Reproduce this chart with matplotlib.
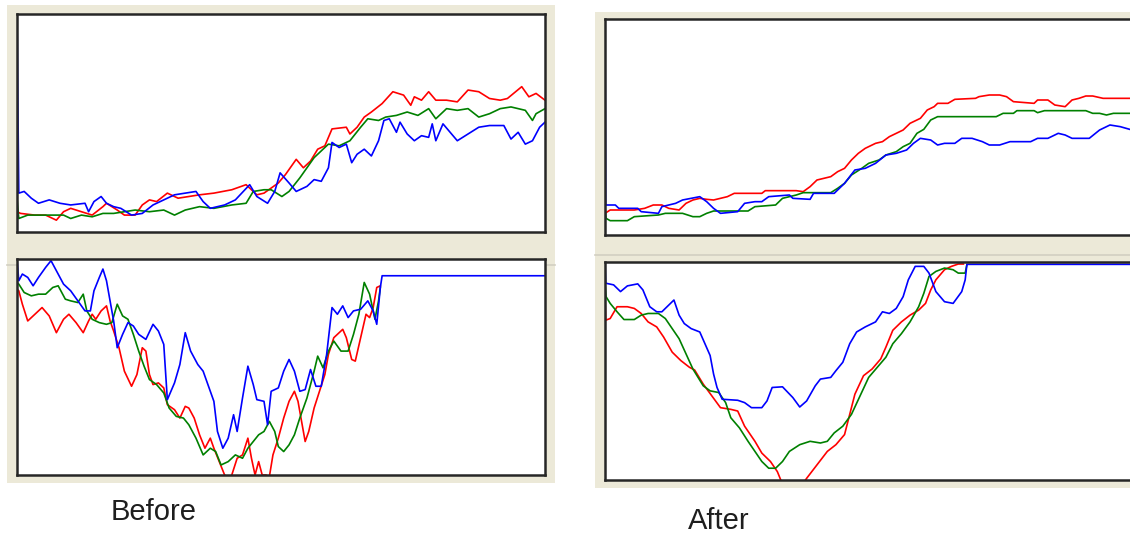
import matplotlib
matplotlib.use("Agg")
import matplotlib.pyplot as plt
from matplotlib.patches import Rectangle
from matplotlib.lines import Line2D

# values, (time, level) pairs, arbitrary units
before_top_red = [(0, 60), (10, 55), (50, 50), (80, 50), (110, 35), (130, 60), (150, 70), (180, 60), (210, 50),
                  (240, 75), (250, 85), (280, 65), (300, 50), (330, 50), (350, 80), (370, 95), (390, 90),
                  (420, 115), (450, 100), (480, 105), (510, 110), (550, 115), (600, 125), (640, 140),
                  (650, 130), (670, 110), (690, 115), (710, 130), (730, 145), (750, 170), (780, 215),
                  (800, 190), (820, 210), (840, 245), (860, 255), (880, 305), (920, 310), (930, 290),
                  (950, 310), (970, 340), (990, 355), (1020, 380), (1050, 415), (1080, 405), (1100, 375),
                  (1110, 400), (1130, 390), (1150, 415), (1170, 390), (1200, 390), (1230, 385), (1260, 420),
                  (1290, 415), (1320, 395), (1350, 390), (1370, 395), (1410, 430), (1430, 400), (1450, 410),
                  (1475, 390)]
before_top_green = [(0, 100), (5, 40), (30, 50), (80, 50), (130, 50), (150, 40), (180, 50), (210, 45),
                    (240, 55), (270, 55), (300, 60), (330, 65), (370, 60), (410, 65), (440, 50), (470, 65),
                    (510, 75), (550, 70), (600, 80), (640, 85), (660, 120), (690, 125), (710, 125), (740, 105),
                    (760, 120), (790, 160), (810, 190), (830, 220), (850, 240), (870, 260), (900, 255),
                    (930, 270), (960, 310), (980, 335), (1010, 330), (1030, 340), (1060, 345), (1090, 355),
                    (1120, 345), (1150, 365), (1170, 335), (1200, 365), (1230, 360), (1260, 365), (1290, 340),
                    (1320, 350), (1350, 365), (1380, 370), (1420, 360), (1440, 330), (1450, 350), (1475, 365)]
before_top_blue = [(0, 645), (5, 115), (20, 120), (40, 100), (60, 85), (90, 95), (120, 85), (150, 80),
                   (190, 85), (200, 60), (215, 90), (235, 105), (250, 85), (270, 75), (290, 70), (320, 50),
                   (350, 55), (380, 80), (410, 95), (440, 110), (470, 115), (500, 120), (520, 90), (540, 70),
                   (580, 80), (610, 95), (650, 140), (670, 105), (700, 85), (720, 120), (735, 175), (760, 145),
                   (780, 120), (810, 135), (830, 155), (850, 150), (870, 190), (880, 265), (900, 250),
                   (920, 260), (935, 205), (950, 230), (970, 245), (990, 225), (1010, 270), (1025, 330),
                   (1040, 335), (1060, 295), (1070, 325), (1090, 290), (1110, 270), (1130, 285), (1150, 280),
                   (1160, 320), (1170, 270), (1190, 320), (1210, 295), (1230, 270), (1260, 290), (1290, 310),
                   (1320, 315), (1360, 315), (1380, 275), (1400, 295), (1420, 260), (1440, 270), (1460, 310),
                   (1475, 325)]

before_bot_red = [(0, 555), (5, 550), (15, 510), (30, 460), (50, 480), (70, 500), (90, 475), (110, 425),
                  (130, 465), (145, 480), (165, 455), (185, 425), (200, 460), (210, 480), (220, 465),
                  (235, 490), (250, 505), (260, 460), (270, 430), (285, 380), (300, 310), (320, 265),
                  (335, 300), (350, 380), (360, 370), (370, 300), (380, 270), (395, 275), (410, 260),
                  (420, 210), (440, 195), (455, 170), (470, 205), (480, 200), (495, 170), (510, 120),
                  (525, 80), (540, 110), (550, 80), (565, 40), (580, 0), (590, -10), (600, 0), (615, 50),
                  (630, 60), (645, 110), (655, 50), (665, 0), (675, 40), (685, 0), (695, 0), (705, -5),
                  (715, 60), (730, 110), (745, 170), (760, 220), (775, 250), (785, 220), (795, 160),
                  (805, 100), (815, 130), (830, 200), (845, 250), (860, 300), (870, 360), (885, 410),
                  (900, 425), (910, 435), (920, 410), (935, 345), (945, 340), (960, 410), (975, 480),
                  (985, 470), (995, 500), (1005, 560), (1015, 565)]
before_bot_green = [(0, 575), (5, 570), (20, 545), (40, 535), (60, 540), (80, 540), (100, 560), (115, 565),
                    (135, 525), (150, 520), (170, 515), (185, 540), (195, 490), (210, 465), (230, 455),
                    (250, 450), (265, 455), (280, 510), (295, 475), (310, 465), (325, 420), (340, 370),
                    (355, 325), (370, 285), (390, 270), (410, 245), (425, 200), (445, 175), (465, 170),
                    (480, 150), (500, 110), (520, 60), (540, 80), (555, 70), (570, 30), (590, 40), (610, 60),
                    (630, 50), (645, 80), (660, 100), (675, 120), (690, 130), (705, 160), (720, 130),
                    (730, 85), (745, 70), (760, 90), (775, 120), (790, 170), (810, 230), (830, 310),
                    (840, 355), (855, 320), (870, 370), (885, 400), (905, 370), (925, 370), (940, 420),
                    (955, 480), (970, 575), (985, 540), (1000, 465), (1010, 520), (1015, 560)]
before_bot_blue = [(0, 645), (5, 580), (15, 600), (30, 590), (45, 565), (60, 590), (80, 620), (95, 640),
                   (110, 610), (130, 570), (150, 550), (170, 520), (190, 490), (205, 490), (215, 550),
                   (230, 590), (240, 615), (250, 580), (260, 520), (270, 460), (280, 380), (295, 420),
                   (310, 455), (325, 445), (340, 420), (360, 405), (380, 450), (395, 430), (410, 390),
                   (420, 225), (440, 275), (455, 330), (470, 425), (485, 370), (505, 330), (520, 310),
                   (540, 250), (550, 220), (560, 130), (575, 80), (590, 110), (605, 180), (615, 130),
                   (630, 230), (645, 325), (660, 270), (670, 225), (690, 220), (700, 150), (710, 250),
                   (730, 260), (745, 310), (760, 345), (775, 310), (790, 250), (805, 255), (820, 315),
                   (835, 265), (850, 265), (865, 360), (880, 500), (895, 480), (910, 505), (925, 470),
                   (940, 490), (960, 495), (980, 520), (995, 490), (1005, 450), (1015, 560), (1020, 595),
                   (1475, 595)]

after_top_red = [(0, 65), (15, 75), (55, 75), (85, 75), (115, 80), (140, 90), (165, 90), (185, 80),
                 (215, 75), (235, 95), (255, 105), (275, 110), (295, 107), (315, 105), (335, 110), (355, 115),
                 (375, 125), (455, 125), (465, 133), (555, 133), (575, 130), (595, 145), (615, 165),
                 (655, 175), (675, 190), (695, 200), (715, 225), (735, 245), (755, 260), (785, 275),
                 (805, 280), (825, 295), (845, 305), (865, 315), (885, 335), (915, 350), (935, 375),
                 (955, 385), (965, 395), (995, 395), (1015, 407), (1075, 410), (1085, 415), (1115, 420),
                 (1145, 420), (1165, 415), (1185, 400), (1245, 395), (1255, 405), (1285, 405), (1305, 390),
                 (1335, 385), (1355, 405), (1375, 410), (1395, 417), (1415, 417), (1445, 410), (1529, 410)]
after_top_green = [(0, 85), (3, 50), (15, 43), (65, 43), (85, 55), (155, 60), (175, 65), (225, 65),
                   (255, 55), (275, 55), (295, 65), (315, 72), (415, 72), (435, 85), (495, 90), (515, 110),
                   (555, 120), (575, 127), (655, 127), (675, 140), (695, 155), (715, 180), (745, 200),
                   (765, 215), (795, 225), (815, 240), (845, 250), (865, 265), (885, 275), (905, 305),
                   (925, 317), (945, 345), (965, 355), (1135, 355), (1155, 365), (1185, 365), (1195, 373),
                   (1245, 373), (1255, 367), (1275, 373), (1395, 373), (1415, 365), (1435, 365), (1455, 360),
                   (1475, 365), (1529, 365)]
after_top_blue = [(0, 648), (2, 90), (30, 90), (40, 80), (95, 80), (105, 70), (155, 65), (165, 85),
                  (185, 90), (205, 95), (225, 105), (275, 115), (295, 100), (315, 80), (335, 65), (385, 70),
                  (405, 95), (435, 100), (455, 100), (475, 115), (535, 120), (545, 110), (595, 107),
                  (605, 125), (665, 125), (695, 155), (725, 195), (755, 200), (785, 215), (815, 240),
                  (845, 245), (875, 255), (895, 275), (915, 290), (945, 285), (965, 270), (985, 275),
                  (1015, 275), (1035, 290), (1065, 290), (1095, 280), (1115, 270), (1145, 270), (1175, 280),
                  (1235, 280), (1255, 290), (1285, 290), (1315, 305), (1335, 300), (1355, 290), (1405, 290),
                  (1435, 315), (1465, 330), (1495, 325), (1529, 315)]

after_bot_red = [(0, 545), (2, 475), (15, 480), (35, 515), (65, 515), (85, 510), (105, 495), (125, 470),
                 (150, 455), (170, 425), (195, 380), (220, 355), (245, 335), (260, 327), (285, 285),
                 (310, 250), (335, 215), (365, 210), (385, 205), (405, 160), (435, 115), (455, 80),
                 (480, 55), (500, 25), (510, 0), (520, -15), (575, -10), (585, 5), (615, 45), (645, 85),
                 (670, 105), (695, 135), (710, 195), (725, 255), (750, 310), (775, 330), (800, 360),
                 (815, 395), (835, 445), (860, 470), (885, 490), (910, 505), (930, 525), (945, 565),
                 (960, 595), (985, 625), (1005, 635), (1025, 642), (1040, 642)]
after_bot_green = [(0, 585), (3, 545), (15, 525), (35, 500), (55, 477), (85, 477), (105, 490), (125, 495),
                   (155, 495), (175, 480), (195, 450), (215, 420), (235, 375), (255, 330), (285, 280),
                   (305, 265), (330, 260), (350, 230), (365, 185), (390, 155), (415, 115), (435, 85),
                   (455, 55), (475, 35), (495, 35), (515, 55), (535, 85), (565, 105), (595, 115), (625, 110),
                   (645, 115), (665, 140), (690, 160), (715, 195), (740, 250), (765, 305), (790, 335),
                   (815, 365), (835, 405), (860, 435), (885, 470), (910, 515), (925, 555), (940, 605),
                   (960, 620), (985, 630), (1010, 625), (1025, 615), (1045, 615), (1050, 640)]
after_bot_blue = [(0, 648), (2, 585), (25, 580), (45, 560), (65, 577), (95, 583), (110, 565), (130, 515),
                  (150, 500), (165, 500), (185, 520), (200, 535), (215, 490), (230, 465), (250, 450),
                  (275, 440), (290, 405), (305, 370), (315, 315), (325, 275), (340, 240), (385, 237),
                  (405, 230), (425, 215), (455, 215), (470, 235), (485, 275), (515, 277), (545, 245),
                  (565, 217), (585, 235), (610, 280), (625, 300), (655, 305), (670, 325), (690, 350),
                  (710, 405), (730, 440), (755, 455), (785, 470), (805, 500), (825, 495), (845, 510),
                  (865, 545), (880, 595), (900, 635), (925, 635), (940, 615), (960, 560), (985, 530),
                  (1010, 525), (1035, 560), (1045, 595), (1050, 641), (1529, 641)]

before_xmax, before_ymax = 1475, 645
after_xmax, after_ymax = 1529, 648

W, H = 1130, 535
BG = "#ECE9D8"

fig = plt.figure(figsize=(W / 100, H / 100), dpi=100)
fig.patch.set_facecolor("white")


def px_box(left, top, right, bottom):
    return [left / W, 1 - bottom / H, (right - left) / W, (bottom - top) / H]


# grey window backgrounds
fig.patches.append(Rectangle((7 / W, 1 - 483 / H), 548 / W, 478 / H, transform=fig.transFigure,
                             facecolor=BG, edgecolor="none", zorder=0))
fig.patches.append(Rectangle((595 / W, 1 - 488 / H), 540 / W, 476 / H, transform=fig.transFigure,
                             facecolor=BG, edgecolor="none", zorder=0))
fig.lines.append(Line2D([7 / W, 555 / W], [1 - 265 / H] * 2, transform=fig.transFigure,
                        color="#D2CFC2", lw=1.2, zorder=0.5))
fig.lines.append(Line2D([595 / W, 1 / 1], [1 - 255 / H] * 2, transform=fig.transFigure,
                        color="#D2CFC2", lw=1.2, zorder=0.5))

panels = [
    (px_box(17, 14, 545, 232), before_top_red, before_top_green, before_top_blue, before_xmax, before_ymax),
    (px_box(17, 259, 545, 475), before_bot_red, before_bot_green, before_bot_blue, before_xmax, before_ymax),
    (px_box(605, 19, 1132, 235), after_top_red, after_top_green, after_top_blue, after_xmax, after_ymax),
    (px_box(605, 262, 1132, 480), after_bot_red, after_bot_green, after_bot_blue, after_xmax, after_ymax),
]

for box, red, green, blue, xmax, ymax in panels:
    ax = fig.add_axes(box)
    for series, col in ((red, "#FF0000"), (green, "#008000"), (blue, "#0000FF")):
        xs, ys = zip(*series)
        ax.plot(xs, ys, color=col, lw=1.2)
    ax.set_xlim(0, xmax)
    ax.set_ylim(0, ymax)
    ax.set_xticks([])
    ax.set_yticks([])
    for sp in ax.spines.values():
        sp.set_linewidth(1.8)
        sp.set_color("#262626")
    ax.set_zorder(2)

fig.text(154 / W, 1 - 520 / H, "Before", ha="center", va="baseline", fontsize=21,
         family="Liberation Sans", color="#1e1e1e")
fig.text(719 / W, 1 - 529 / H, "After", ha="center", va="baseline", fontsize=21,
         family="Liberation Sans", color="#1e1e1e")

fig.savefig("out.png", dpi=100, facecolor="white")
